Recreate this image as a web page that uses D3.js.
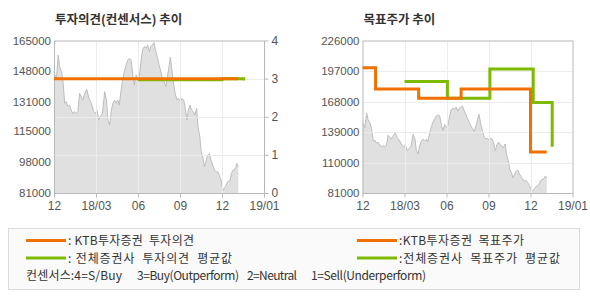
<!DOCTYPE html>
<html>
<head>
<meta charset="utf-8">
<script src="https://cdn.jsdelivr.net/npm/d3@7"></script>
<style>
  body { margin: 0; background: #fff; }
  text { font-family: "Liberation Sans", "Noto Sans CJK KR", sans-serif; }
</style>
</head>
<body>
<svg id="chart" width="590" height="300"></svg>
<script>
// x axis ticks (month starts) and their labels
const tickDates = ["2017-12-01", "2018-03-01", "2018-06-01", "2018-09-01", "2018-12-01", "2019-01-01"];
const tickLabels = ["12", "18/03", "06", "09", "12", "19/01"];

// share price
const priceDates = [
  "2017-12-01","2017-12-06","2017-12-10","2017-12-13","2017-12-17","2017-12-20","2017-12-24","2017-12-27",
  "2017-12-31","2018-01-03","2018-01-07","2018-01-10","2018-01-14","2018-01-18","2018-01-21","2018-01-25",
  "2018-01-28","2018-02-01","2018-02-04","2018-02-09","2018-02-14","2018-02-19","2018-02-24","2018-02-28",
  "2018-03-03","2018-03-07","2018-03-10","2018-03-15","2018-03-20","2018-03-24","2018-03-27","2018-03-31",
  "2018-04-03","2018-04-07","2018-04-11","2018-04-14","2018-04-18","2018-04-21","2018-04-25","2018-04-29",
  "2018-05-02","2018-05-06","2018-05-10","2018-05-13","2018-05-17","2018-05-21","2018-05-24","2018-05-28",
  "2018-06-01","2018-06-04","2018-06-08","2018-06-11","2018-06-15","2018-06-19","2018-06-22","2018-06-26",
  "2018-06-29","2018-07-03","2018-07-06","2018-07-10","2018-07-14","2018-07-17","2018-07-21","2018-07-24",
  "2018-07-28","2018-08-01","2018-08-04","2018-08-08","2018-08-11","2018-08-15","2018-08-19","2018-08-22",
  "2018-08-26","2018-08-29","2018-09-02","2018-09-05","2018-09-09","2018-09-12","2018-09-16","2018-09-19",
  "2018-09-23","2018-09-26","2018-09-30","2018-10-03","2018-10-07","2018-10-10","2018-10-14","2018-10-17",
  "2018-10-21","2018-10-24","2018-10-28","2018-10-31","2018-11-04","2018-11-07","2018-11-11","2018-11-15",
  "2018-11-18","2018-11-22","2018-11-25","2018-11-29","2018-12-01","2018-12-02","2018-12-04","2018-12-05",
  "2018-12-07","2018-12-08","2018-12-09","2018-12-11","2018-12-12","2018-12-13"
];
const prices = [
  147900,143300,157000,150600,147900,143300,130400,131300,
  128500,129400,126700,124800,125800,124800,125800,135900,
  134100,132200,135000,138100,133100,130400,125800,124800,
  126700,121200,123000,124800,136800,132200,121200,118400,
  125800,130400,132200,130400,132200,129400,137700,144200,
  147900,151600,154300,155200,154300,145100,140500,146000,
  143300,145100,154300,159800,161700,160800,162600,158900,
  161700,162600,163900,158900,155200,151600,148000,145100,
  142400,139600,144200,150600,155800,147000,139600,135000,
  132200,133100,131300,133100,132200,128500,121200,126700,
  129400,126700,125800,123900,127600,117500,112000,103700,
  100000,95400,99100,101800,102700,99100,96300,93500,
  92600,92600,90800,88000,85200,82500,85200,87100,
  88000,91700,93500,94500,97200,95400
];

// investment opinion (consensus score)
const ktbOpinionDates = ["2017-12-01", "2018-12-13"];
const ktbOpinion = [3, 3];
const avgOpinionDates = ["2018-06-01", "2018-12-01", "2018-12-17"];
const avgOpinion = [2.97, 3, 2.95];

// target price
const ktbTargetDates = ["2017-12-01", "2017-12-29", "2018-04-01", "2018-07-03", "2018-12-01", "2018-12-13"];
const ktbTarget = [200000, 180000, 171000, 180000, 120000, 120000];
const avgTargetDates = ["2018-03-01", "2018-06-03", "2018-09-04", "2018-12-03", "2018-12-17"];
const avgTarget = [187000, 171000, 199000, 167000, 125000];

const opinionTicks = [0, 1, 2, 3, 4];
const leftPriceTicks = [81000, 98000, 115000, 131000, 148000, 165000];
const rightPriceTicks = [81000, 110000, 139000, 168000, 197000, 226000];
const consensusNotes = ["컨센서스:4=S/Buy", "3=Buy(Outperform)", "2=Neutral", "1=Sell(Underperform)"];

const ORANGE = "#f07000", GREEN = "#7cbb00";
const parse = d3.timeParse("%Y-%m-%d");
const priceData = priceDates.map((d, i) => ({ date: parse(d), v: prices[i] }));
const pairs = (ds, vs) => ds.map((d, i) => ({ date: parse(d), v: vs[i] }));

const svg = d3.select("#chart");

function panel(left, title, priceTicks, gridTicks, gridScaleFn) {
  const x0 = left, x1 = left + 210, y0 = 40.5, y1 = 193;
  const g = svg.append("g");

  const x = d3.scaleTime()
    .domain(tickDates.map(parse))
    .range(tickDates.map((d, i) => x0 + i * (x1 - x0) / (tickDates.length - 1)));
  const y = d3.scaleLinear()
    .domain([priceTicks[0], priceTicks[priceTicks.length - 1]])
    .range([y1, y0]);

  g.append("text")
    .attr("x", x0 + 1).attr("y", 24)
    .style("font-family", "'Noto Sans CJK KR', sans-serif")
    .style("font-weight", "bold").style("font-size", "12.5px")
    .attr("fill", "#333")
    .text(title);

  // price area
  const area = d3.area().x(d => x(d.date)).y0(y1).y1(d => y(d.v));
  g.append("path").datum(priceData).attr("d", area).attr("fill", "#e0e0e0");
  g.append("path").datum(priceData)
    .attr("d", d3.line().x(d => x(d.date)).y(d => y(d.v)))
    .attr("fill", "none").attr("stroke", "#bdbdbd").attr("stroke-width", 1);

  // grid
  const gs = gridScaleFn ? gridScaleFn(y0, y1) : y;
  g.selectAll(".vg").data(tickDates.slice(1, -1)).enter().append("line")
    .attr("x1", d => Math.round(x(parse(d))) + 0.5).attr("x2", d => Math.round(x(parse(d))) + 0.5)
    .attr("y1", y0).attr("y2", y1)
    .attr("stroke", "#ececec");
  g.selectAll(".hg").data(gridTicks.slice(1, -1)).enter().append("line")
    .attr("x1", x0).attr("x2", x1)
    .attr("y1", d => Math.round(gs(d)) + 0.5).attr("y2", d => Math.round(gs(d)) + 0.5)
    .attr("stroke", "#ececec");

  // frame
  g.append("rect")
    .attr("x", x0 + 0.5).attr("y", y0 + 0.5)
    .attr("width", x1 - x0).attr("height", y1 - y0)
    .attr("fill", "none").attr("stroke", "#b8b8b8");

  // left axis labels
  g.selectAll(".yl").data(priceTicks).enter().append("text")
    .attr("x", x0 - 3).attr("y", d => y(d) + 4)
    .attr("text-anchor", "end").attr("font-size", "11.5px").attr("fill", "#555")
    .text(d => d);

  // bottom axis ticks & labels
  const xa = g.append("g").attr("transform", `translate(0,${y1 + 0.5})`)
    .call(d3.axisBottom(x).tickValues(tickDates.map(parse)).tickSize(4).tickPadding(4)
      .tickFormat((d, i) => tickLabels[i]));
  xa.select(".domain").remove();
  xa.selectAll("line").attr("stroke", "#b8b8b8");
  xa.selectAll("text").attr("font-size", "12px").attr("fill", "#555")
    .style("font-family", "'Liberation Sans', sans-serif");

  return { g, x, y, x0, x1, y0, y1 };
}

// ---- left panel: opinion trend
const L = panel(54, "투자의견(컨센서스) 추이", leftPriceTicks, opinionTicks,
  (y0, y1) => d3.scaleLinear().domain([0, 4]).range([y1, y0]));
const yOp = d3.scaleLinear().domain([0, 4]).range([L.y1, L.y0]);

const ra = L.g.append("g").attr("transform", `translate(${L.x1 + 0.5},0)`)
  .call(d3.axisRight(yOp).tickValues(opinionTicks).tickFormat(d3.format("d")).tickSize(4).tickPadding(3));
ra.select(".domain").remove();
ra.selectAll("line").attr("stroke", "#b8b8b8");
ra.selectAll("text").attr("font-size", "12px").attr("fill", "#555")
  .style("font-family", "'Liberation Sans', sans-serif");

const opLine = d3.line().curve(d3.curveStepAfter).x(d => L.x(d.date)).y(d => yOp(d.v));
L.g.append("path").datum(pairs(avgOpinionDates, avgOpinion)).attr("d", opLine)
  .attr("fill", "none").attr("stroke", GREEN).attr("stroke-width", 3);
L.g.append("path").datum(pairs(ktbOpinionDates, ktbOpinion)).attr("d", opLine)
  .attr("fill", "none").attr("stroke", ORANGE).attr("stroke-width", 3);

// ---- right panel: target price trend
const R = panel(362.5, "목표주가 추이", rightPriceTicks, rightPriceTicks, null);
const tLine = d3.line().curve(d3.curveStepAfter).x(d => R.x(d.date)).y(d => R.y(d.v));
R.g.append("path").datum(pairs(avgTargetDates, avgTarget)).attr("d", tLine)
  .attr("fill", "none").attr("stroke", GREEN).attr("stroke-width", 3);
R.g.append("path").datum(pairs(ktbTargetDates, ktbTarget)).attr("d", tLine)
  .attr("fill", "none").attr("stroke", ORANGE).attr("stroke-width", 3);

// ---- legend
const lg = svg.append("g");
lg.append("rect").attr("x", 8.5).attr("y", 228.5).attr("width", 571).attr("height", 61)
  .attr("fill", "#fafafa").attr("stroke", "#dcdcdc");

const legendItems = [
  { x: 26, y: 240.5, color: ORANGE, label: ": KTB투자증권  투자의견", w: 126 },
  { x: 26, y: 258, color: GREEN, label: ": 전체증권사  투자의견  평균값", w: 164 },
  { x: 357, y: 240.5, color: ORANGE, label: ":KTB투자증권  목표주가", w: 125 },
  { x: 357, y: 258, color: GREEN, label: ":전체증권사  목표주가  평균값", w: 161 }
];
legendItems.forEach(it => {
  lg.append("line").attr("x1", it.x).attr("x2", it.x + 40)
    .attr("y1", it.y).attr("y2", it.y)
    .attr("stroke", it.color).attr("stroke-width", 3);
  lg.append("text").attr("x", it.x + 42).attr("y", it.y + 4.5)
    .attr("font-size", "12px").attr("fill", "#333")
    .attr("textLength", it.w).attr("lengthAdjust", "spacing")
    .style("white-space", "pre").attr("xml:space", "preserve")
    .style("font-family", "'Noto Sans CJK KR', sans-serif")
    .text(it.label);
});

const noteX = [26, 137, 247, 311];
const noteW = [96, 102, 50, 115];
lg.selectAll(".note").data(consensusNotes).enter().append("text")
  .attr("x", (d, i) => noteX[i]).attr("y", 280)
  .attr("textLength", (d, i) => noteW[i]).attr("lengthAdjust", "spacing")
  .attr("font-size", "12px").attr("fill", "#333")
  .style("font-family", "'Noto Sans CJK KR', sans-serif")
  .text(d => d);
</script>
</body>
</html>
